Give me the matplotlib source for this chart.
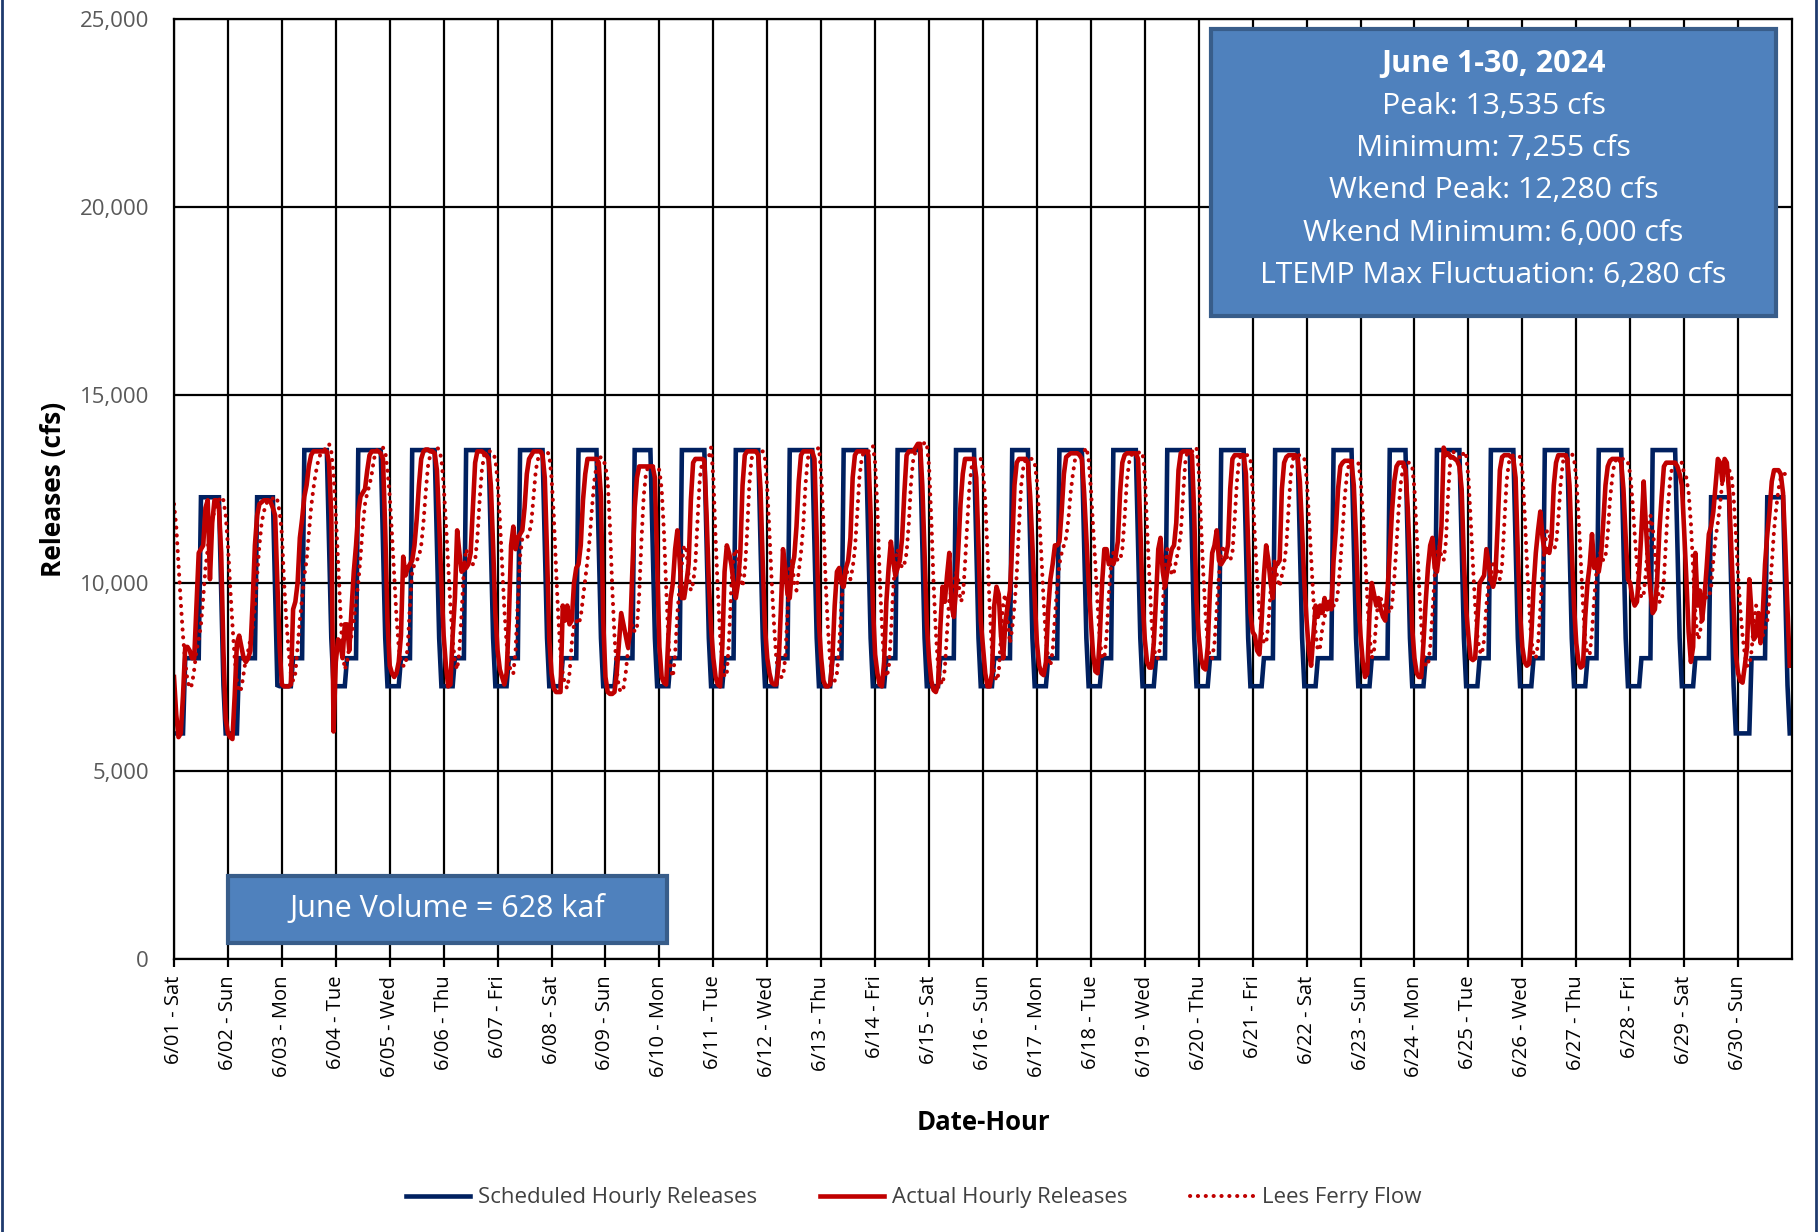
import numpy as np
import matplotlib
matplotlib.use('Agg')
import matplotlib.pyplot as plt
from matplotlib.lines import Line2D
from matplotlib.patches import Rectangle
from matplotlib.ticker import FuncFormatter, MultipleLocator

plt.rcParams['font.family'] = ['Open Sans', 'DejaVu Sans']

day_labels = ['6/01 - Sat', '6/02 - Sun', '6/03 - Mon', '6/04 - Tue', '6/05 - Wed',
              '6/06 - Thu', '6/07 - Fri', '6/08 - Sat', '6/09 - Sun', '6/10 - Mon',
              '6/11 - Tue', '6/12 - Wed', '6/13 - Thu', '6/14 - Fri', '6/15 - Sat',
              '6/16 - Sun', '6/17 - Mon', '6/18 - Tue', '6/19 - Wed', '6/20 - Thu',
              '6/21 - Fri', '6/22 - Sat', '6/23 - Sun', '6/24 - Mon', '6/25 - Tue',
              '6/26 - Wed', '6/27 - Thu', '6/28 - Fri', '6/29 - Sat', '6/30 - Sun']

# scheduled hourly release patterns (cfs), hour 0..23
sched_shapes = {
    'weekday': [7255, 7255, 7255, 7255, 7255, 8000, 8000, 8000, 8000, 8000, 13535, 13535,
                13535, 13535, 13535, 13535, 13535, 13535, 13535, 13535, 13535, 11035, 8535, 7255],
    'sat': [7255, 7255, 7255, 7255, 7255, 8000, 8000, 8000, 8000, 8000, 8000, 8000,
            13535, 13535, 13535, 13535, 13535, 13535, 13535, 13535, 13535, 11035, 8535, 7255],
    'sun': [7255, 7255, 7255, 7255, 7255, 8000, 8000, 8000, 8000, 8000, 8000, 8000,
            8000, 13535, 13535, 13535, 13535, 13535, 13535, 13535, 13535, 11035, 8535, 7255],
    'sat_low': [6000, 6000, 6000, 6000, 6000, 8000, 8000, 8000, 8000, 8000, 8000, 8000,
                12280, 12280, 12280, 12280, 12280, 12280, 12280, 12280, 12280, 9780, 7280, 6000],
    'sun_low': [6000, 6000, 6000, 6000, 6000, 8000, 8000, 8000, 8000, 8000, 8000, 8000,
                8000, 12280, 12280, 12280, 12280, 12280, 12280, 12280, 12280, 9780, 7280, 7255],
    'sat_end': [7255, 7255, 7255, 7255, 7255, 8000, 8000, 8000, 8000, 8000, 8000, 8000,
                12280, 12280, 12280, 12280, 12280, 12280, 12280, 12280, 12280, 9780, 7280, 6000],
    'sun_end': [6000, 6000, 6000, 6000, 6000, 6000, 8000, 8000, 8000, 8000, 8000, 8000,
                8000, 12280, 12280, 12280, 12280, 12280, 12280, 12280, 12280, 9780, 7280, 6000],
}
sched_day_type = ['sat_low', 'sun_low', 'weekday', 'weekday', 'weekday', 'weekday', 'weekday',
                  'sat', 'sun', 'weekday', 'weekday', 'weekday', 'weekday', 'weekday',
                  'sat', 'sun', 'weekday', 'weekday', 'weekday', 'weekday', 'weekday',
                  'sat', 'sun', 'weekday', 'weekday', 'weekday', 'weekday', 'weekday',
                  'sat_end', 'sun_end']

# actual hourly releases, kcfs, one row per day
actual_kcfs = [
    [7.5, 6.5, 5.9, 6.0, 7.0, 8.3, 8.3, 8.2, 8.0, 8.0, 9.4, 10.8, 10.9, 11.0, 12.0, 12.2, 10.1, 11.6, 12.2, 12.2, 12.0, 10.8, 8.2, 6.4],
    [6.0, 5.9, 5.85, 7.0, 8.4, 8.6, 8.3, 8.0, 7.9, 8.0, 8.2, 9.5, 11.0, 11.8, 12.1, 12.15, 12.2, 12.2, 12.2, 12.15, 12.0, 11.8, 10.0, 8.3],
    [7.3, 7.25, 7.25, 7.25, 7.3, 9.3, 9.5, 10.0, 11.2, 11.7, 12.3, 12.6, 13.1, 13.4, 13.5, 13.5, 13.5, 13.5, 13.5, 13.5, 13.5, 13.2, 11.8, 6.05],
    [7.9, 8.5, 8.4, 8.0, 8.9, 8.9, 8.2, 9.3, 10.3, 11.0, 11.9, 12.3, 12.4, 12.5, 13.0, 13.4, 13.5, 13.5, 13.5, 13.5, 13.45, 13.3, 11.4, 9.0],
    [7.8, 7.6, 7.5, 7.6, 7.9, 8.6, 10.7, 10.2, 10.4, 10.5, 10.6, 11.0, 11.7, 12.6, 13.3, 13.5, 13.55, 13.55, 13.5, 13.5, 13.45, 13.0, 11.6, 10.0],
    [8.6, 7.8, 7.25, 7.3, 8.6, 9.6, 11.4, 10.8, 10.3, 10.5, 10.4, 10.5, 10.8, 12.0, 13.2, 13.5, 13.5, 13.5, 13.45, 13.4, 13.3, 12.6, 11.0, 9.2],
    [8.2, 7.7, 7.5, 7.3, 7.6, 9.0, 11.0, 11.5, 10.9, 11.2, 11.3, 11.4, 12.0, 12.9, 13.3, 13.4, 13.5, 13.5, 13.5, 13.5, 13.4, 12.8, 10.8, 8.5],
    [7.6, 7.2, 7.1, 7.1, 7.1, 9.4, 9.0, 9.4, 8.9, 9.0, 10.0, 10.4, 10.5, 11.0, 12.2, 12.9, 13.3, 13.3, 13.3, 13.3, 13.3, 13.2, 12.3, 9.0],
    [7.5, 7.1, 7.05, 7.05, 7.1, 7.6, 8.4, 9.2, 8.9, 8.6, 8.3, 8.7, 10.4, 12.0, 12.8, 13.1, 13.1, 13.1, 13.1, 13.1, 13.1, 13.1, 12.8, 10.6],
    [8.3, 7.5, 7.35, 7.3, 8.6, 9.6, 10.0, 10.9, 11.4, 10.6, 9.6, 9.6, 10.0, 10.5, 12.2, 13.2, 13.3, 13.3, 13.3, 13.3, 13.25, 11.8, 10.0, 8.8],
    [8.0, 7.5, 7.3, 7.25, 8.3, 10.3, 11.0, 10.8, 10.5, 10.0, 9.6, 10.0, 10.8, 12.6, 13.4, 13.5, 13.5, 13.5, 13.5, 13.5, 13.4, 12.5, 10.5, 8.8],
    [8.0, 7.6, 7.35, 7.3, 7.3, 7.8, 9.2, 10.9, 10.4, 9.7, 9.6, 10.4, 10.7, 11.5, 12.7, 13.4, 13.5, 13.5, 13.5, 13.5, 13.5, 13.3, 11.2, 8.9],
    [8.0, 7.4, 7.25, 7.25, 7.3, 8.0, 9.4, 10.3, 10.4, 10.0, 9.9, 10.4, 10.6, 11.2, 12.8, 13.4, 13.5, 13.5, 13.5, 13.5, 13.5, 13.4, 11.8, 9.4],
    [8.1, 7.6, 7.3, 7.25, 7.9, 9.5, 10.4, 11.1, 10.6, 10.2, 10.4, 10.6, 11.2, 12.4, 13.4, 13.5, 13.5, 13.5, 13.6, 13.7, 13.7, 12.6, 10.8, 8.9],
    [8.0, 7.4, 7.15, 7.1, 7.3, 8.8, 9.9, 9.5, 10.2, 10.8, 9.4, 9.1, 9.8, 10.9, 12.1, 12.9, 13.3, 13.3, 13.3, 13.3, 13.3, 12.8, 11.0, 9.0],
    [8.3, 7.6, 7.25, 7.25, 7.6, 9.4, 9.9, 9.7, 8.6, 8.0, 9.0, 9.4, 9.8, 11.0, 12.6, 13.2, 13.3, 13.3, 13.3, 13.3, 13.2, 12.3, 11.0, 9.6],
    [8.4, 7.8, 7.6, 7.55, 7.9, 9.3, 10.1, 10.5, 11.0, 11.0, 11.1, 11.9, 12.9, 13.35, 13.4, 13.45, 13.45, 13.45, 13.45, 13.4, 13.3, 12.4, 11.2, 10.0],
    [9.0, 8.1, 7.65, 7.6, 8.6, 10.0, 10.9, 10.9, 10.5, 10.6, 10.5, 10.7, 11.1, 12.4, 13.2, 13.4, 13.45, 13.45, 13.45, 13.45, 13.45, 13.3, 11.5, 9.6],
    [8.5, 7.9, 7.75, 7.75, 8.4, 9.6, 10.9, 11.2, 10.3, 9.9, 10.3, 10.6, 10.9, 11.0, 11.6, 13.0, 13.45, 13.5, 13.5, 13.5, 13.5, 13.4, 11.8, 9.5],
    [8.6, 8.0, 7.75, 7.7, 8.3, 9.8, 10.8, 11.0, 11.4, 10.6, 10.5, 10.6, 10.7, 11.0, 12.5, 13.3, 13.4, 13.4, 13.4, 13.4, 13.4, 12.9, 11.0, 9.2],
    [8.7, 8.6, 8.2, 8.1, 9.0, 10.2, 11.0, 10.6, 10.0, 9.6, 10.5, 10.5, 10.6, 12.5, 13.2, 13.35, 13.4, 13.4, 13.4, 13.4, 13.3, 12.7, 11.4, 10.0],
    [9.0, 8.2, 7.8, 8.6, 9.4, 9.1, 9.4, 9.2, 9.6, 9.3, 9.5, 9.3, 10.6, 11.4, 12.5, 13.1, 13.2, 13.25, 13.25, 13.25, 13.2, 12.6, 11.2, 9.6],
    [8.6, 7.9, 7.5, 7.6, 9.2, 10.0, 9.7, 9.4, 9.6, 9.3, 9.1, 9.0, 9.8, 10.8, 11.9, 12.7, 13.1, 13.2, 13.2, 13.2, 13.0, 12.0, 10.5, 8.8],
    [8.0, 7.6, 7.5, 7.5, 8.4, 9.5, 10.4, 11.0, 11.2, 10.4, 10.3, 10.8, 11.5, 13.6, 13.4, 13.45, 13.35, 13.35, 13.3, 13.25, 13.1, 12.5, 10.6, 9.3],
    [8.6, 8.0, 7.95, 8.0, 9.0, 10.0, 10.1, 10.2, 10.9, 10.5, 10.1, 9.9, 10.2, 11.5, 13.0, 13.35, 13.4, 13.4, 13.4, 13.35, 13.3, 12.8, 10.8, 9.2],
    [8.3, 7.9, 7.8, 7.85, 8.6, 9.9, 10.8, 11.4, 11.9, 11.2, 10.8, 10.9, 10.8, 11.2, 12.6, 13.2, 13.4, 13.4, 13.4, 13.4, 13.3, 12.6, 10.9, 9.4],
    [8.4, 7.9, 7.75, 7.8, 9.1, 10.0, 10.5, 11.3, 10.4, 10.6, 10.3, 10.7, 11.6, 12.6, 13.1, 13.25, 13.3, 13.3, 13.3, 13.3, 13.2, 12.5, 11.2, 10.1],
    [10.0, 9.6, 9.4, 9.5, 10.3, 11.4, 12.7, 11.5, 10.5, 9.8, 9.2, 9.3, 10.1, 11.4, 12.3, 13.1, 13.2, 13.2, 13.2, 13.2, 13.2, 13.1, 12.9, 12.6],
    [11.4, 10.1, 8.7, 7.9, 8.3, 10.8, 9.4, 9.8, 9.0, 9.6, 10.4, 11.3, 11.5, 11.9, 12.6, 13.3, 13.2, 12.7, 13.3, 13.2, 12.4, 10.9, 9.4, 8.1],
    [7.6, 7.4, 7.35, 7.8, 8.3, 10.1, 9.2, 8.5, 8.6, 9.2, 8.4, 9.2, 10.5, 11.3, 11.9, 12.7, 13.0, 13.0, 13.0, 12.9, 12.4, 11.0, 9.3, 7.8],
]

# flow at Lees Ferry, kcfs, one row per day
lees_ferry_kcfs = [
    [12.1, 11.5, 10.5, 9.5, 8.6, 7.9, 7.4, 7.2, 7.3, 7.7, 8.2, 8.5, 8.9, 9.6, 10.4, 10.9, 11.4, 11.7, 11.9, 12.1, 12.2, 12.3, 12.2, 11.8],
    [11.0, 9.9, 8.9, 8.0, 7.4, 7.1, 7.2, 7.6, 8.0, 8.2, 8.5, 8.8, 9.4, 10.2, 11.0, 11.6, 11.9, 12.1, 12.2, 12.2, 12.25, 12.3, 12.2, 11.9],
    [11.3, 10.0, 9.0, 8.2, 7.6, 7.4, 7.6, 8.3, 9.0, 9.6, 10.2, 10.6, 11.3, 12.0, 12.5, 12.9, 13.2, 13.4, 13.5, 13.55, 13.6, 13.7, 13.5, 12.9],
    [11.8, 10.6, 9.3, 8.2, 7.7, 7.9, 8.3, 8.6, 9.0, 9.5, 10.0, 10.7, 11.5, 12.1, 12.4, 12.6, 12.9, 13.3, 13.5, 13.6, 13.6, 13.6, 13.5, 13.0],
    [12.3, 11.3, 10.2, 9.1, 8.3, 7.9, 7.8, 7.8, 8.3, 9.4, 10.3, 10.5, 10.6, 10.7, 11.0, 11.6, 12.4, 13.1, 13.4, 13.55, 13.6, 13.6, 13.55, 13.3],
    [12.6, 11.6, 10.5, 9.4, 8.5, 7.9, 7.7, 8.2, 9.2, 10.4, 10.9, 10.7, 10.5, 10.5, 10.6, 11.2, 12.2, 13.0, 13.4, 13.5, 13.5, 13.5, 13.45, 13.3],
    [12.7, 11.7, 10.5, 9.3, 8.4, 7.9, 7.6, 7.6, 8.2, 9.5, 10.7, 11.2, 11.2, 11.2, 11.3, 11.6, 12.3, 13.0, 13.3, 13.45, 13.5, 13.5, 13.5, 13.4],
    [12.8, 11.8, 10.4, 9.1, 8.1, 7.6, 7.3, 7.2, 7.6, 8.4, 8.9, 9.0, 8.9, 9.1, 9.6, 10.1, 10.6, 11.2, 12.0, 12.7, 13.1, 13.3, 13.35, 13.3],
    [13.1, 12.7, 11.5, 9.9, 8.6, 7.7, 7.2, 7.1, 7.2, 7.6, 8.2, 8.8, 8.9, 8.7, 8.8, 9.7, 11.1, 12.3, 12.9, 13.1, 13.1, 13.1, 13.1, 13.1],
    [13.0, 12.5, 11.4, 9.9, 8.5, 7.7, 7.5, 8.1, 9.2, 9.9, 10.5, 11.0, 10.9, 10.2, 9.8, 10.0, 10.5, 11.7, 12.8, 13.2, 13.3, 13.3, 13.35, 13.6],
    [12.8, 11.2, 9.8, 8.6, 7.9, 7.5, 7.6, 8.5, 9.9, 10.7, 10.9, 10.7, 10.2, 9.9, 10.3, 11.3, 12.6, 13.3, 13.5, 13.5, 13.5, 13.5, 13.5, 13.3],
    [12.5, 11.3, 10.0, 8.9, 8.0, 7.6, 7.5, 7.5, 8.0, 9.2, 10.4, 10.6, 10.0, 9.8, 10.3, 10.8, 11.5, 12.6, 13.3, 13.5, 13.5, 13.5, 13.55, 13.6],
    [12.9, 11.6, 10.0, 8.8, 7.9, 7.5, 7.4, 7.6, 8.3, 9.4, 10.2, 10.4, 10.2, 10.1, 10.4, 10.9, 11.8, 12.8, 13.3, 13.5, 13.5, 13.5, 13.55, 13.65],
    [13.2, 12.0, 10.2, 8.9, 7.9, 7.5, 7.7, 8.6, 9.8, 10.6, 10.9, 10.6, 10.4, 10.5, 10.8, 11.6, 12.7, 13.3, 13.5, 13.5, 13.5, 13.6, 13.75, 13.7],
    [13.1, 11.7, 10.0, 8.7, 7.8, 7.4, 7.3, 7.7, 8.7, 9.6, 9.8, 9.9, 10.3, 10.1, 9.5, 9.6, 10.5, 11.6, 12.6, 13.1, 13.3, 13.3, 13.3, 13.3],
    [13.0, 12.2, 10.8, 9.3, 8.2, 7.6, 7.4, 7.6, 8.6, 9.5, 9.7, 9.0, 8.4, 8.8, 9.4, 10.2, 11.5, 12.6, 13.1, 13.3, 13.3, 13.3, 13.3, 13.2],
    [12.7, 11.8, 10.7, 9.5, 8.5, 8.0, 7.8, 8.2, 9.1, 9.9, 10.5, 10.8, 11.0, 11.2, 11.7, 12.4, 12.9, 13.3, 13.4, 13.45, 13.45, 13.5, 13.6, 13.3],
    [12.5, 11.5, 10.5, 9.4, 8.5, 8.0, 8.0, 8.6, 9.7, 10.5, 10.8, 10.7, 10.6, 10.6, 10.9, 11.7, 12.7, 13.2, 13.4, 13.45, 13.45, 13.45, 13.5, 13.45],
    [12.9, 11.5, 10.2, 9.0, 8.3, 8.0, 8.0, 8.4, 9.4, 10.4, 10.9, 10.6, 10.2, 10.3, 10.6, 10.9, 11.3, 12.3, 13.2, 13.5, 13.5, 13.5, 13.5, 13.6],
    [13.0, 11.6, 10.3, 9.2, 8.4, 8.0, 8.0, 8.4, 9.3, 10.2, 10.8, 11.0, 10.8, 10.6, 10.6, 10.8, 11.7, 12.7, 13.3, 13.4, 13.4, 13.4, 13.4, 13.3],
    [12.5, 11.2, 10.1, 9.2, 8.7, 8.4, 8.4, 8.9, 9.8, 10.5, 10.6, 10.1, 9.9, 10.2, 10.5, 11.0, 12.0, 12.9, 13.3, 13.4, 13.4, 13.4, 13.4, 13.3],
    [12.8, 11.8, 10.7, 9.6, 8.7, 8.2, 8.3, 8.8, 9.1, 9.3, 9.3, 9.4, 9.4, 9.4, 9.8, 10.5, 11.4, 12.3, 12.9, 13.2, 13.25, 13.25, 13.25, 13.2],
    [12.8, 11.9, 10.8, 9.6, 8.6, 8.0, 8.2, 9.0, 9.6, 9.6, 9.4, 9.4, 9.3, 9.2, 9.4, 10.1, 11.0, 12.0, 12.7, 13.1, 13.2, 13.2, 13.2, 13.1],
    [12.5, 11.3, 10.0, 8.9, 8.1, 7.8, 7.8, 8.3, 9.2, 10.2, 10.8, 11.0, 10.7, 10.6, 11.1, 12.4, 13.3, 13.5, 13.45, 13.4, 13.35, 13.3, 13.5, 13.4],
    [12.8, 11.7, 10.5, 9.4, 8.6, 8.2, 8.1, 8.5, 9.4, 10.0, 10.2, 10.5, 10.6, 10.3, 10.1, 10.5, 11.6, 12.7, 13.2, 13.35, 13.4, 13.4, 13.4, 13.35],
    [13.0, 11.9, 10.6, 9.4, 8.5, 8.1, 8.0, 8.4, 9.3, 10.3, 11.0, 11.4, 11.3, 11.0, 10.9, 11.0, 11.7, 12.6, 13.2, 13.4, 13.4, 13.4, 13.45, 13.3],
    [12.8, 11.8, 10.6, 9.4, 8.5, 8.1, 8.1, 8.7, 9.6, 10.3, 10.8, 10.8, 10.6, 10.7, 11.3, 12.2, 12.8, 13.2, 13.3, 13.3, 13.3, 13.3, 13.3, 13.2],
    [12.9, 12.2, 11.3, 10.5, 9.9, 9.6, 9.7, 10.3, 11.2, 11.8, 11.5, 10.8, 10.0, 9.5, 9.5, 10.1, 11.2, 12.2, 12.9, 13.1, 13.2, 13.2, 13.2, 13.2],
    [12.9, 12.8, 12.4, 11.6, 10.4, 9.2, 8.5, 8.6, 9.3, 9.7, 9.6, 9.6, 9.9, 10.6, 11.2, 11.6, 12.1, 12.7, 13.0, 13.1, 13.0, 12.9, 12.3, 11.3],
    [10.2, 9.3, 8.6, 8.1, 7.8, 7.8, 8.2, 8.9, 9.4, 9.3, 8.8, 8.6, 8.8, 9.0, 9.6, 10.5, 11.4, 12.0, 12.5, 12.8, 12.9, 12.9, 12.9, 12.9],
]

stats_lines = ['Peak: 13,535 cfs', 'Minimum: 7,255 cfs', 'Wkend Peak: 12,280 cfs',
               'Wkend Minimum: 6,000 cfs', 'LTEMP Max Fluctuation: 6,280 cfs']
stats_title = 'June 1-30, 2024'
volume_text = 'June Volume = 628 kaf'

navy = '#002060'
red = '#C00000'
box_fill = '#4F81BD'
box_edge = '#385D8A'

scheduled = np.concatenate([sched_shapes[k] for k in sched_day_type])
actual = np.array(actual_kcfs).ravel() * 1000
lees = np.array(lees_ferry_kcfs).ravel() * 1000
hours = np.arange(len(scheduled))

W, H = 1820, 1232
fig = plt.figure(figsize=(W / 100, H / 100), dpi=100)
fig.set_facecolor('w')
ax = fig.add_axes([174 / W, 1 - 959 / H, (1792 - 174) / W, (959 - 19) / H])

ax.plot(hours, scheduled, color=navy, lw=3.3, solid_joinstyle='miter', label='Scheduled Hourly Releases')
ax.plot(hours, actual, color=red, lw=3.3, label='Actual Hourly Releases')
ax.plot(hours, lees, color=red, lw=2.9, linestyle=(0, (0.05, 1.9)),
        dash_capstyle='round', label='Lees Ferry Flow')

ax.set_xlim(0, 720)
ax.set_ylim(0, 25000)
ax.set_xticks(np.arange(0, 720, 24))
ax.set_xticklabels(day_labels)
ax.yaxis.set_major_locator(MultipleLocator(5000))
ax.yaxis.set_major_formatter(FuncFormatter(lambda v, p: '{:,}'.format(int(v))))
ax.grid(True, color='black', lw=1.6)
ax.set_axisbelow(True)
for sp in ax.spines.values():
    sp.set_color('black')
    sp.set_linewidth(1.6)
ax.tick_params(axis='x', length=6, width=1.6, pad=6, labelsize=14.5, labelrotation=90, colors='black')
ax.tick_params(axis='y', length=0, pad=18, labelsize=16, labelcolor='#595959')

fig.text(983 / W, 1 - 1122 / H, 'Date-Hour', ha='center', va='center', fontsize=18.5, fontweight='bold')
fig.text(54 / W, 1 - 489 / H, 'Releases (cfs)', ha='center', va='center', rotation=90,
         fontsize=19, fontweight='bold')

# summary box, upper right
fig.add_artist(Rectangle((1211 / W, 1 - 316 / H), (1776 - 1211) / W, (316 - 29) / H,
                         transform=fig.transFigure, facecolor=box_fill, edgecolor=box_edge,
                         lw=3, zorder=5))
box_cx = (1211 + 1776) / 2 / W
fig.text(box_cx, 1 - 64 / H, stats_title, ha='center', va='center', color='white',
         fontsize=22, fontweight='bold', zorder=6)
for i, line in enumerate(stats_lines):
    fig.text(box_cx, 1 - (106 + 42.4 * i) / H, line, ha='center', va='center',
             color='white', fontsize=21.7, zorder=6)

# monthly volume box
fig.add_artist(Rectangle((228 / W, 1 - 943 / H), (667 - 228) / W, (943 - 876) / H,
                         transform=fig.transFigure, facecolor=box_fill, edgecolor=box_edge,
                         lw=3, zorder=5))
fig.text(447 / W, 1 - 909 / H, volume_text, ha='center', va='center', color='white',
         fontsize=22, zorder=6)

handles, labels = ax.get_legend_handles_labels()
fig.legend(handles, labels, loc='center', bbox_to_anchor=(0.502, 1 - 1198 / H), ncol=3,
           frameon=False, fontsize=16, handlelength=2.9, handletextpad=0.35,
           columnspacing=2.8, labelcolor='#404040')

# thin frame lines at the page edges
fig.add_artist(Line2D([0.001, 0.001], [0, 1], transform=fig.transFigure, color='#1F3A6E', lw=2))
fig.add_artist(Line2D([0.998, 0.998], [0, 1], transform=fig.transFigure, color='#1F3A6E', lw=2))

fig.savefig('out.png', dpi=100)
